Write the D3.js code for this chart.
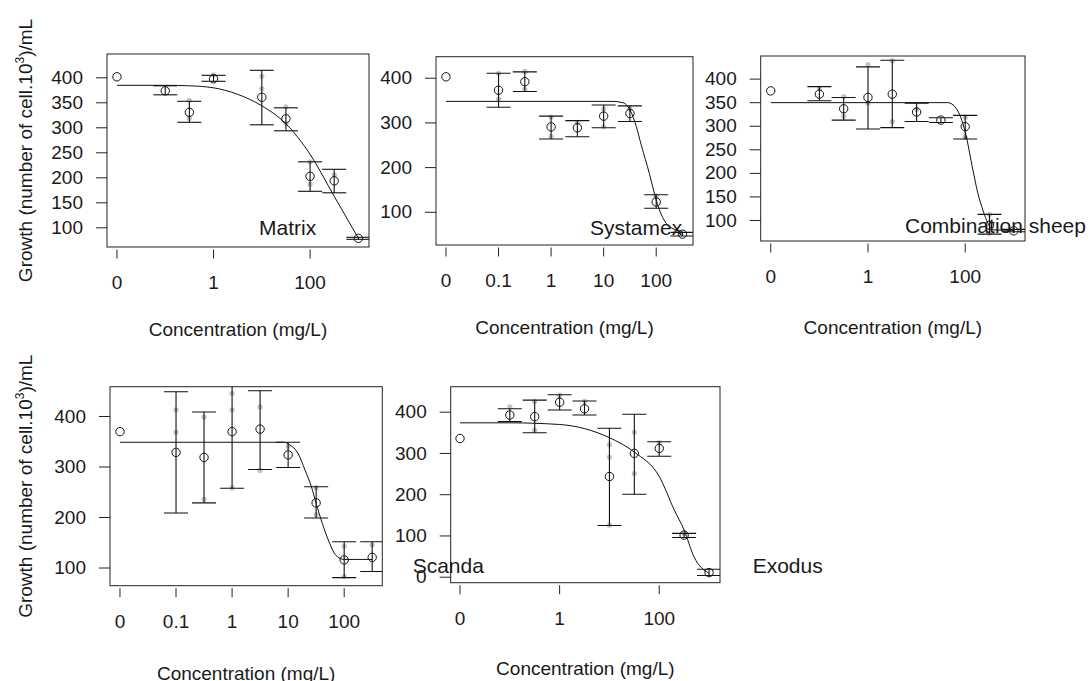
<!DOCTYPE html>
<html>
<head>
<meta charset="utf-8">
<script src="https://cdn.jsdelivr.net/npm/d3@7"></script>
<style>
  body { margin: 0; background: #fff; }
  svg text { font-family: "Liberation Sans", Arial, sans-serif; fill: #1a1a1a; }
</style>
</head>
<body>
<svg id="chart" width="1090" height="681"></svg>
<script>
// ---- data (dose in mg/L, growth in cells*10^3/mL) ----
// dose 0 is the control; it is drawn at the broken-axis position
const matrixMeans = [[0,401],[0.1,373],[0.316,330],[1,397],[10,360],[31.6,317],[100,202],[316,193],[1000,78]];
const matrixBars  = [[0.1,365,383],[0.316,310,352],[1,392,404],[10,305,414],[31.6,293,339],[100,172,231],[316,169,216],[1000,76,80]];
const matrixReps  = [[0.316,354],[0.316,318],[1,405],[10,402],[10,377],[31.6,341],[31.6,308],[100,231],[100,186],[316,205]];
const matrixFit   = [[0,384],[0.1,384],[0.316,383],[1,379],[3.16,366],[10,343],[31.6,307],[100,246],[316,162],[1000,78]];

const systamexMeans = [[0,402],[0.1,372],[0.316,391],[1,290],[3.16,288],[10,314],[31.6,320],[100,122],[316,50]];
const systamexBars  = [[0.1,334,410],[0.316,369,413],[1,263,314],[3.16,268,304],[10,288,339],[31.6,302,337],[100,108,138],[316,46,54]];
const systamexReps  = [[0.1,410],[0.1,352],[0.316,414],[0.316,374],[1,312],[1,268],[3.16,300],[10,330],[10,290],[31.6,330],[100,135]];
const systamexFit   = [[0,347],[10,347],[15,347],[23.6,344],[31.6,328],[42,290],[52,249],[74,186],[100,126],[126,93],[158,73],[211,62],[316,56]];

const sheepMeans = [[0,374],[0.1,367],[0.316,336],[1,360],[3.16,367],[10,329],[31.6,312],[100,298],[316,89],[1000,77]];
const sheepBars  = [[0.1,353,383],[0.316,312,360],[1,293,425],[3.16,296,439],[10,309,348],[31.6,307,317],[100,272,322],[316,70,112],[1000,75,80]];
const sheepReps  = [[0.1,380],[0.316,362],[0.316,320],[1,430],[1,348],[3.16,438],[3.16,309],[10,335],[100,318],[100,275],[316,112],[316,72]];
const sheepFit   = [[0,349],[44,349],[65,337],[100,287],[144,206],[182,157],[231,121],[293,93],[373,79],[1000,78]];

const scandaMeans = [[0,369],[0.1,328],[0.316,318],[1,369],[3.16,374],[10,323],[31.6,228],[100,115],[316,120]];
const scandaBars  = [[0.1,208,448],[0.316,228,408],[1,257,481],[3.16,294,450],[10,298,348],[31.6,198,260],[100,80,151],[316,92,151]];
const scandaReps  = [[0.1,412],[0.1,368],[0.316,398],[0.316,235],[1,445],[1,412],[1,258],[3.16,418],[3.16,292],[10,340],[31.6,258],[31.6,205],[100,142],[100,82],[316,145]];
const scandaFit   = [[0,348],[8.5,348],[10.7,343],[15,326],[20,293],[26,260],[31.6,227],[40.8,187],[55,148],[70,125],[100,116],[316,116]];

const exodusMeans = [[0,335],[0.1,392],[0.316,388],[1,423],[3.16,407],[10,243],[31.6,299],[100,311],[316,101],[1000,10]];
const exodusBars  = [[0.1,376,407],[0.316,349,428],[1,404,441],[3.16,392,426],[10,124,360],[31.6,200,394],[100,292,327],[316,95,105],[1000,3,18]];
const exodusReps  = [[0.1,412],[0.316,425],[0.316,355],[1,440],[3.16,425],[10,320],[10,290],[10,125],[31.6,350],[31.6,250],[100,325],[316,105]];
const exodusFit   = [[0,373],[0.1,373],[1,369],[3.16,359],[10,337],[31.6,302],[100,243],[200,162],[316,113],[500,48],[1000,8]];

const ticksTopLeft  = [0, 1, 100];
const ticksDecades  = [0, 0.1, 1, 10, 100];

const svg = d3.select("#chart");
const zeroDose = 0.01;   // where the control is drawn on the log axis
const capHalf = 12;

// panel boxes (pixels) and axis ranges
const panels = [
  { name: "Matrix", means: matrixMeans, bars: matrixBars, reps: matrixReps, fit: matrixFit,
    box: [107, 54, 262, 193], xdom: [-2.206, 3.22], ydom: [60.6, 446.6],
    xticks: ticksTopLeft, yticks: d3.range(100, 401, 50),
    label: [259, 235], xtitleY: 336, ytitle: true },
  { name: "Systamex", means: systamexMeans, bars: systamexBars, reps: systamexReps, fit: systamexFit,
    box: [436, 56.7, 257, 188.3], xdom: [-2.19, 2.70], ydom: [25.7, 447],
    xticks: ticksDecades, yticks: d3.range(100, 401, 100),
    label: [590, 235], xtitleY: 334, ytitle: false },
  { name: "Combination sheep", means: sheepMeans, bars: sheepBars, reps: sheepReps, fit: sheepFit,
    box: [760.7, 56, 264.3, 185], xdom: [-2.207, 3.23], ydom: [55.4, 448],
    xticks: ticksTopLeft, yticks: d3.range(100, 401, 50),
    label: [905, 233], xtitleY: 334, ytitle: false },
  { name: "Scanda", means: scandaMeans, bars: scandaBars, reps: scandaReps, fit: scandaFit,
    box: [110, 386.7, 272.3, 199], xdom: [-2.178, 2.68], ydom: [64, 458],
    xticks: ticksDecades, yticks: d3.range(100, 401, 100),
    label: [412.7, 573], xtitleY: 680, ytitle: true },
  { name: "Exodus", means: exodusMeans, bars: exodusBars, reps: exodusReps, fit: exodusFit,
    box: [450.7, 386.7, 269.3, 196], xdom: [-2.187, 3.22], ydom: [-14.5, 460.6],
    xticks: ticksTopLeft, yticks: d3.range(0, 401, 100),
    label: [752.7, 573], xtitleY: 675, ytitle: false }
];

const fmtDose = d => d === 0 ? "0" : String(d);

panels.forEach((p, i) => {
  const [bx, by, bw, bh] = p.box;
  const x = d3.scaleLog()
    .domain([Math.pow(10, p.xdom[0]), Math.pow(10, p.xdom[1])])
    .range([bx, bx + bw]);
  const xd = d => x(d === 0 ? zeroDose : d);
  const y = d3.scaleLinear().domain(p.ydom).range([by + bh, by]);

  const g = svg.append("g").attr("class", "panel-" + i);

  g.append("clipPath").attr("id", "clip" + i)
    .append("rect").attr("x", bx).attr("y", by).attr("width", bw).attr("height", bh);

  // y axis
  const yAxis = g.append("g")
    .attr("transform", `translate(${bx},0)`)
    .call(d3.axisLeft(y).tickValues(p.yticks).tickSize(11).tickPadding(13));
  yAxis.select(".domain").remove();
  yAxis.selectAll("line").attr("stroke", "#222");
  yAxis.selectAll("text").attr("font-size", 19).attr("fill", "#1a1a1a");

  // x axis: ticks only, a little below the box (the 0 tick is the broken-axis control)
  const xt = g.append("g");
  xt.selectAll("line").data(p.xticks).join("line")
    .attr("x1", d => xd(d)).attr("x2", d => xd(d))
    .attr("y1", by + bh + 2.5).attr("y2", by + bh + 11.5)
    .attr("stroke", "#222");
  xt.selectAll("text").data(p.xticks).join("text")
    .attr("x", d => xd(d)).attr("y", by + bh + 42)
    .attr("text-anchor", "middle").attr("font-size", 19)
    .text(fmtDose);

  // axis titles
  g.append("text")
    .attr("x", bx + bw / 2).attr("y", p.xtitleY)
    .attr("text-anchor", "middle").attr("font-size", 19)
    .text("Concentration (mg/L)");
  if (p.ytitle) {
    const t = g.append("text")
      .attr("transform", `translate(31.5,${by + bh / 2}) rotate(-90)`)
      .attr("text-anchor", "middle").attr("font-size", 19);
    t.append("tspan").text("Growth (number of cell.10");
    t.append("tspan").attr("font-size", 12).attr("dy", -8).text("3");
    t.append("tspan").attr("dy", 8).text(")/mL");
  }

  const plot = g.append("g").attr("clip-path", `url(#clip${i})`);

  // replicate observations
  plot.selectAll("circle.rep").data(p.reps).join("circle")
    .attr("class", "rep")
    .attr("cx", d => xd(d[0])).attr("cy", d => y(d[1]))
    .attr("r", 2.6).attr("fill", "#c4c4c4");

  // fitted curve
  plot.append("path")
    .datum(p.fit)
    .attr("fill", "none").attr("stroke", "#111").attr("stroke-width", 1)
    .attr("d", d3.line().x(d => xd(d[0])).y(d => y(d[1])).curve(d3.curveMonotoneX));

  // error bars
  const bars = plot.selectAll("g.bar").data(p.bars).join("g").attr("class", "bar");
  bars.append("line")
    .attr("x1", d => xd(d[0])).attr("x2", d => xd(d[0]))
    .attr("y1", d => y(d[1])).attr("y2", d => y(d[2]));
  bars.append("line")
    .attr("x1", d => xd(d[0]) - capHalf).attr("x2", d => xd(d[0]) + capHalf)
    .attr("y1", d => y(d[1])).attr("y2", d => y(d[1]));
  bars.append("line")
    .attr("x1", d => xd(d[0]) - capHalf).attr("x2", d => xd(d[0]) + capHalf)
    .attr("y1", d => y(d[2])).attr("y2", d => y(d[2]));
  bars.selectAll("line").attr("stroke", "#111").attr("stroke-width", 1.1);

  // means
  plot.selectAll("circle.mean").data(p.means).join("circle")
    .attr("class", "mean")
    .attr("cx", d => xd(d[0])).attr("cy", d => y(d[1]))
    .attr("r", 4.2).attr("fill", "none").attr("stroke", "#111").attr("stroke-width", 1);

  // plot box
  g.append("rect")
    .attr("x", bx).attr("y", by).attr("width", bw).attr("height", bh)
    .attr("fill", "none").attr("stroke", "#222").attr("stroke-width", 1);
});

// panel labels are drawn last so they sit on top, as in the original
panels.forEach(p => {
  svg.append("text")
    .attr("x", p.label[0]).attr("y", p.label[1])
    .attr("font-size", 21).attr("fill", "#000")
    .text(p.name);
});
</script>
</body>
</html>
